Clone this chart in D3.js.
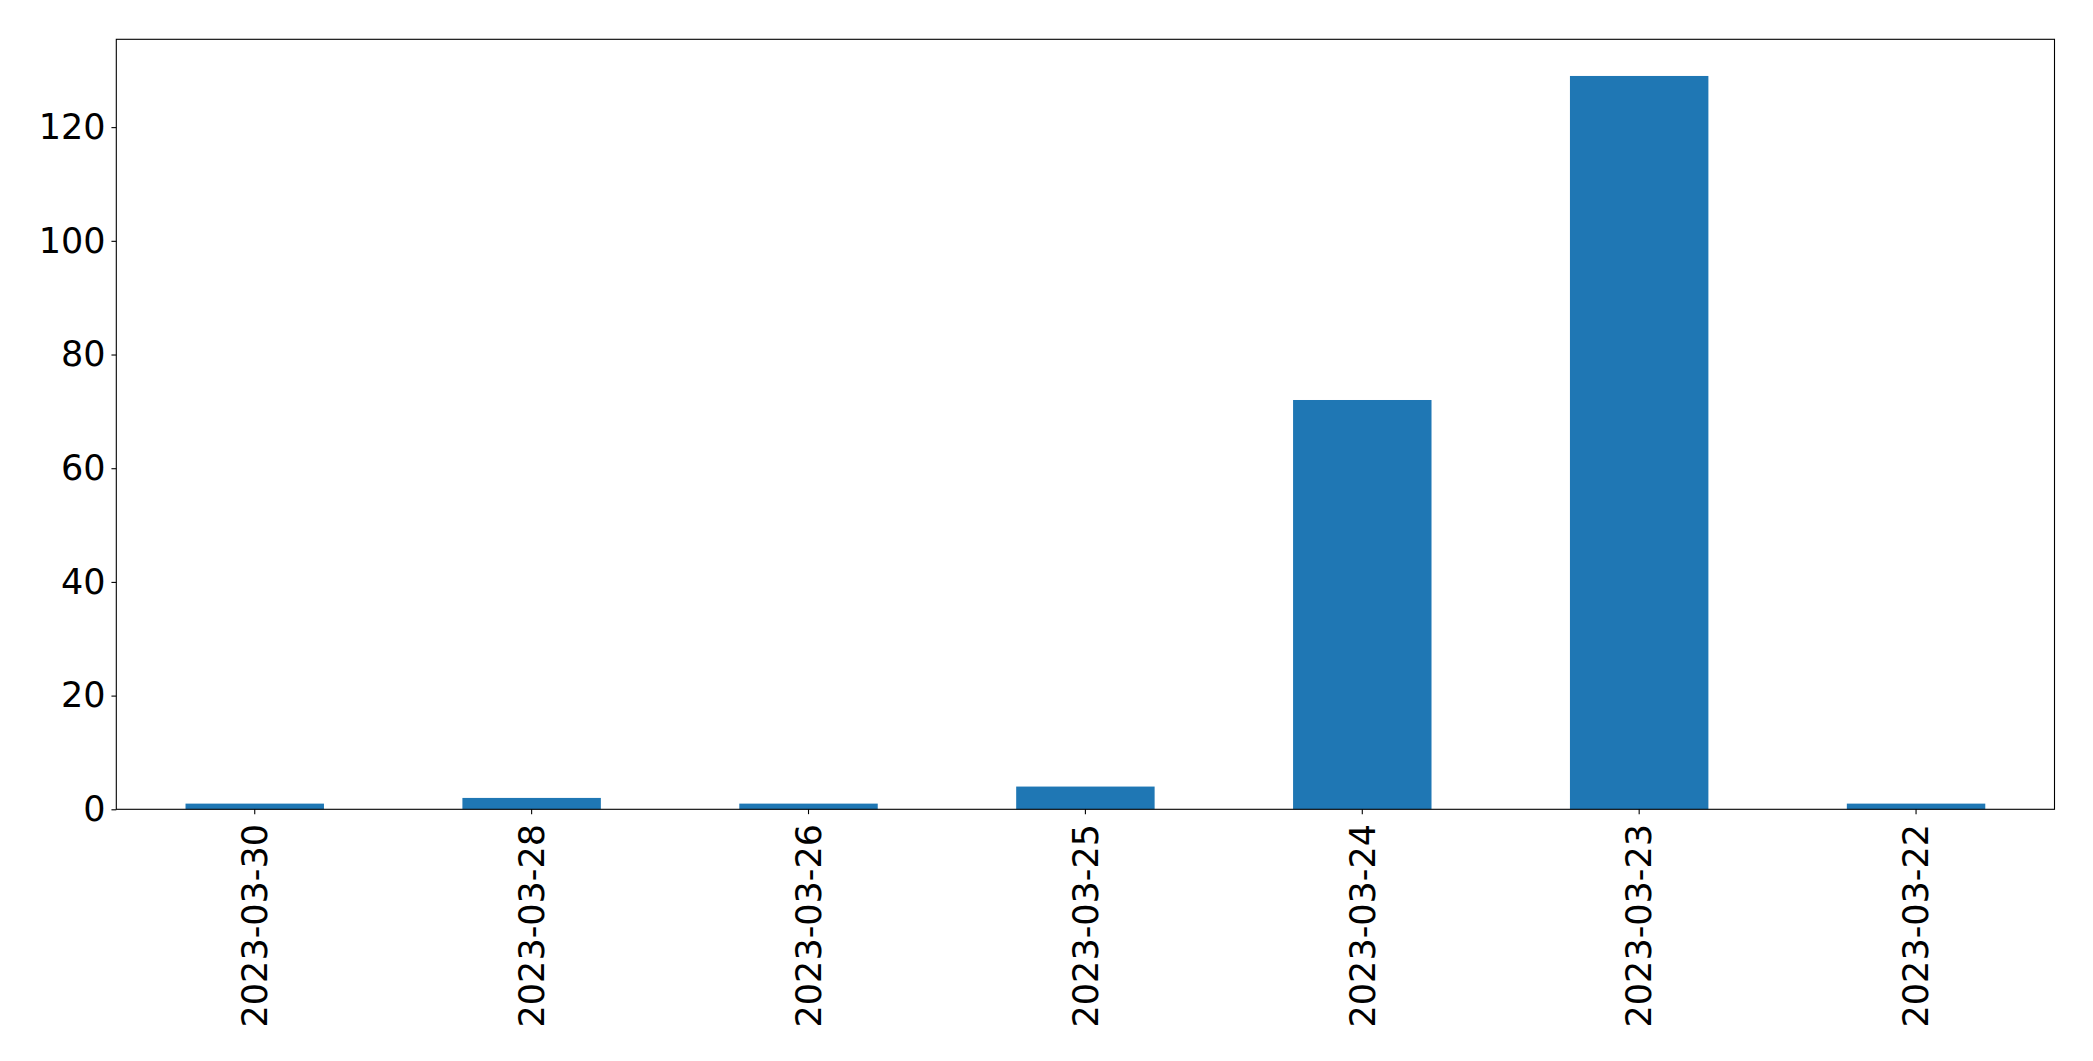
<!DOCTYPE html>
<html>
<head>
<meta charset="utf-8">
<script src="https://cdn.jsdelivr.net/npm/d3@7"></script>
<style>
  html, body { margin: 0; padding: 0; background: #fff; }
  svg { display: block; }
  text { font-family: "DejaVu Sans", sans-serif; }
</style>
</head>
<body>
<svg id="chart" width="2093" height="1061"></svg>
<script>
const categories = ["2023-03-30", "2023-03-28", "2023-03-26", "2023-03-25", "2023-03-24", "2023-03-23", "2023-03-22"];
const values = [1, 2, 1, 4, 72, 129, 1];
const yTicks = [0, 20, 40, 60, 80, 100, 120];

const W = 2093, H = 1061;
const margin = { left: 116.3, right: W - 2054.5, top: 39.3, bottom: H - 809.3 };
const svg = d3.select("#chart");
const fontSize = 35;
const tickLen = 4.86, tickPad = 4.86;

const x = d3.scaleBand()
  .domain(categories)
  .range([margin.left, W - margin.right])
  .paddingInner(0.5)
  .paddingOuter(0.25);

const yMax = d3.max(values) * 1.05;
const y = d3.scaleLinear()
  .domain([0, yMax])
  .range([H - margin.bottom, margin.top]);

// bars
svg.append("g")
  .selectAll("rect")
  .data(values)
  .join("rect")
  .attr("x", (d, i) => x(categories[i]))
  .attr("width", x.bandwidth())
  .attr("y", d => y(d))
  .attr("height", d => y(0) - y(d))
  .attr("fill", "#1f77b4");

// y axis
const yAxis = d3.axisLeft(y).tickValues(yTicks).tickSize(tickLen).tickPadding(tickPad + 1).tickFormat(d3.format("d"));
const gy = svg.append("g")
  .attr("transform", `translate(${margin.left},0)`)
  .call(yAxis);
gy.select(".domain").remove();
gy.selectAll(".tick line").attr("stroke", "#000").attr("stroke-width", 1.1);
gy.selectAll(".tick text")
  .attr("font-size", fontSize)
  .attr("fill", "#000")
  .attr("font-family", "DejaVu Sans, sans-serif");

// x axis
const xAxis = d3.axisBottom(x).tickSize(tickLen).tickPadding(0);
const gx = svg.append("g")
  .attr("transform", `translate(0,${H - margin.bottom})`)
  .call(xAxis);
gx.select(".domain").remove();
gx.selectAll(".tick line").attr("stroke", "#000").attr("stroke-width", 1.1);
gx.selectAll(".tick text")
  .attr("font-size", fontSize)
  .attr("fill", "#000")
  .attr("font-family", "DejaVu Sans, sans-serif")
  .attr("text-anchor", "end")
  .attr("transform", `translate(0,${tickLen + tickPad + 5}) rotate(-90)`)
  .attr("x", 0)
  .attr("y", 0)
  .attr("dy", "0.35em");

// frame
svg.append("rect")
  .attr("x", margin.left)
  .attr("y", margin.top)
  .attr("width", W - margin.left - margin.right)
  .attr("height", H - margin.top - margin.bottom)
  .attr("fill", "none")
  .attr("stroke", "#000")
  .attr("stroke-width", 1.1);
</script>
</body>
</html>
